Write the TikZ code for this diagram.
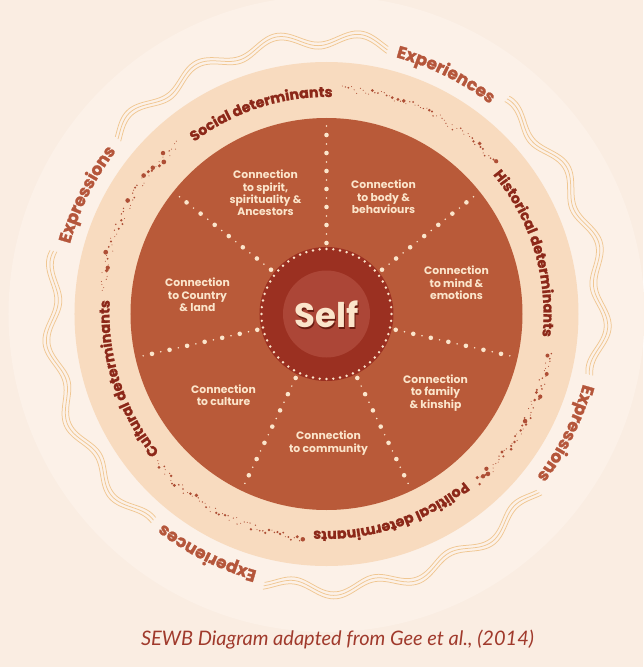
\documentclass[tikz,border=0pt]{standalone}
\usepackage{fontspec}
\newfontfamily\pop{Poppins}
\newfontfamily\popheavy{Poppins}[FakeBold=1.6]
\newfontfamily\lato{Lato}
\usetikzlibrary{decorations.text}
\definecolor{bg}{HTML}{FAEDE2}
\definecolor{glow}{HTML}{FCF1E8}
\definecolor{band}{HTML}{F8DBBF}
\definecolor{disc}{HTML}{B95A39}
\definecolor{selfout}{HTML}{9B3021}
\definecolor{selfin}{HTML}{AC4637}
\definecolor{cream}{HTML}{FBE5CB}
\definecolor{selfshadow}{HTML}{6A1D12}
\definecolor{detred}{HTML}{8C2819}
\definecolor{exred}{HTML}{B5563B}
\definecolor{wavec}{HTML}{F0C792}
\definecolor{dotc}{HTML}{AE4E35}
\definecolor{capc}{HTML}{A03A2C}
\newcommand\detfont{\popheavy\bfseries\fontsize{14.2}{14.2}\selectfont\color{detred}}
\newcommand\exfont{\popheavy\bfseries\fontsize{17}{17}\selectfont\color{exred}}
\tikzset{
  conn/.style={align=center, text=cream, inner sep=0pt,
    font=\pop\bfseries\fontsize{10.8}{12.3}\selectfont},
  wave/.style={draw=wavec, line width=0.75pt},
  bigdot/.style={fill=cream},
}
\begin{document}
\begin{tikzpicture}[x=1pt,y=1pt]
\useasboundingbox (-326.5,-353) rectangle (316.5,314);
\fill[bg] (-326.5,-353) rectangle (316.5,314);
\fill[glow] (0,0) circle (318);
% wavy triple line, interrupted by labels
\foreach \s/\e in {77/140,167/230,257/320,347/410}{
  \foreach \ro in {271.5,275,278.5}{
    \draw[wave] plot[domain=\s:\e, samples=180, smooth, variable=\t] (\t:{\ro+6.5*cos(21*(\t-14.5))});
  }
}
% band and disc
\fill[band] (0,0) circle (252);
\fill[disc] (0,0) circle (196);
% band dots
\pgfmathsetseed{11}
\foreach \s/\e in {42/86,-48/-10,-139/-96,131/174}{
  \foreach \i in {0,...,58}{
    \pgfmathsetmacro\ang{\s+(\e-\s)*\i/58}
    \pgfmathsetmacro\rr{226+3.5*rand}
    \pgfmathsetmacro\sz{0.5+1.9*rnd^3}
    \fill[dotc] (\ang:\rr) circle (\sz);
  }
}
% spokes
\foreach \k in {0,...,6}{
  \pgfmathsetmacro\a{90-\k*360/7}
  \foreach \r in {71,89,...,179} \fill[bigdot] (\a:\r) circle (2.3);
  \foreach \r in {80,98,...,188} \fill[bigdot] (\a:\r) circle (0.85);
}
% self
\fill[selfout] (0,0) circle (67);
\fill[selfin] (0,0) circle (43.5);
\foreach \i in {0,...,59} \fill[bigdot] (\i*6:65) circle (1.35);
\node[font=\pop\bfseries\fontsize{34}{34}\selectfont, text=selfshadow] at (1.5,-2) {Self};
\node[font=\pop\bfseries\fontsize{34}{34}\selectfont, text=cream] (self) at (0,0) {Self};
% connection labels
\node[conn] (spirit) at (-61,121) {Connection\\to spirit,\\spirituality \&\\Ancestors};
\node[conn] (body) at (57,117) {Connection\\to body \&\\behaviours};
\node[conn] (mind) at (130,31) {Connection\\to mind \&\\emotions};
\node[conn] (family) at (109,-79) {Connection\\to family\\\& kinship};
\node[conn] (community) at (2,-129) {Connection\\to community};
\node[conn] (culture) at (-103,-81) {Connection\\to culture};
\node[conn] (country) at (-129,19) {Connection\\to Country\\\& land};
% determinants
\path[decorate, decoration={text along path, text align=center, text={|\detfont|Social determinants}}]
  (150:217) arc[start angle=150, end angle=66, radius=217];
\path[decorate, decoration={text along path, text align=center, text={|\detfont|Historical determinants}}]
  (59:217) arc[start angle=59, end angle=-25, radius=217];
\path[decorate, decoration={text along path, text align=center, text={|\detfont|Political determinants}}]
  (-30:217) arc[start angle=-30, end angle=-114, radius=217];
\path[decorate, decoration={text along path, text align=center, text={|\detfont|Cultural determinants}}]
  (240:217) arc[start angle=240, end angle=156, radius=217];
% experiences / expressions
\path[decorate, decoration={text along path, text align=center, text={|\exfont|Experiences}}]
  (103.5:266) arc[start angle=103.5, end angle=23.5, radius=266];
\path[decorate, decoration={text along path, text align=center, text={|\exfont|Expressions}}]
  (193.5:266) arc[start angle=193.5, end angle=113.5, radius=266];
\path[decorate, decoration={text along path, text align=center, text={|\exfont|Experiences}}]
  (283.5:266) arc[start angle=283.5, end angle=203.5, radius=266];
\path[decorate, decoration={text along path, text align=center, text={|\exfont|Expressions}}]
  (373.5:266) arc[start angle=373.5, end angle=293.5, radius=266];
% caption
\node[font=\lato\itshape\fontsize{20}{20}\selectfont, text=capc] (caption) at (11,-326) {SEWB Diagram adapted from Gee et al., (2014)};
\end{tikzpicture}
\end{document}
